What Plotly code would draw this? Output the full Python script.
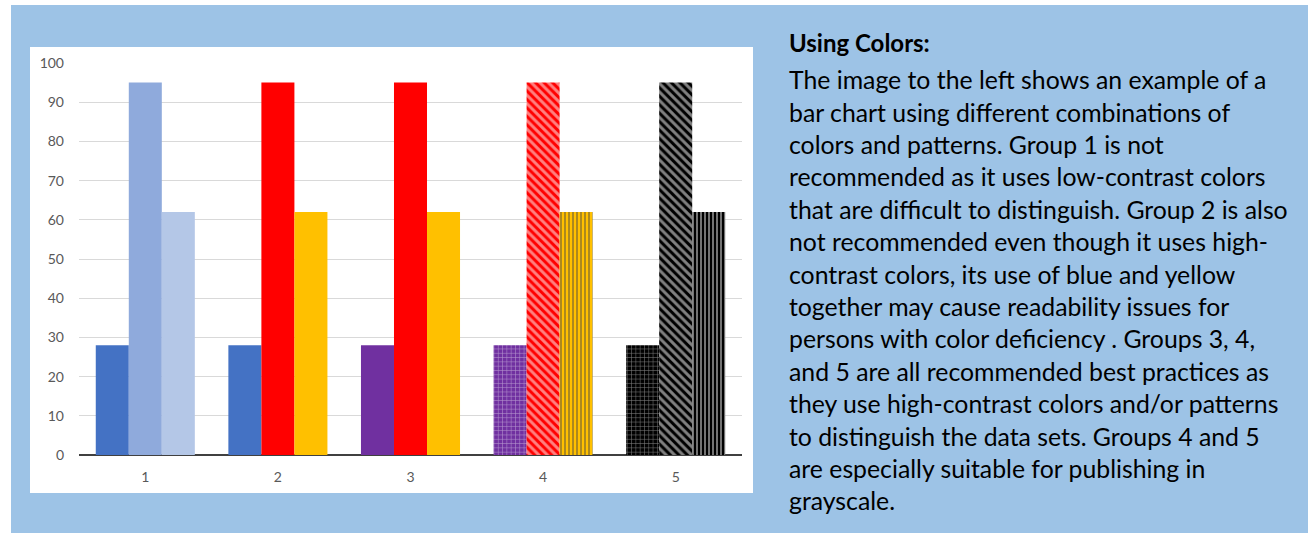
import plotly.graph_objects as go

W, H = 1308, 533

categories = ["1", "2", "3", "4", "5"]
series_a = [28, 28, 28, 28, 28]
series_b = [95, 95, 95, 95, 95]
series_c = [62, 62, 62, 62, 62]
y_ticks = [0, 10, 20, 30, 40, 50, 60, 70, 80, 90, 100]

colors_a = ["#4472C4", "#4472C4", "#7030A0", "#7030A0", "#000000"]
colors_b = ["#8FAADC", "#FF0000", "#FF0000", "#FF0000", "#000000"]
colors_c = ["#B4C7E7", "#FFC000", "#FFC000", "#FFC000", "#000000"]

heading = "Using Colors:"
body_lines = [
    "The image to the left shows an example of a",
    "bar chart using different combinations of",
    "colors and patterns. Group 1 is not",
    "recommended as it uses low-contrast colors",
    "that are difficult to distinguish. Group 2 is also",
    "not recommended even though it uses high-",
    "contrast colors, its use of blue and yellow",
    "together may cause readability issues for",
    "persons with color deficiency . Groups 3, 4,",
    "and 5 are all recommended best practices as",
    "they use high-contrast colors and/or patterns",
    "to distinguish the data sets. Groups 4 and 5",
    "are especially suitable for publishing in",
    "grayscale.",
]

FONT = "Lato"

fig = go.Figure()
fig.add_trace(go.Bar(
    x=categories, y=series_a, name="A",
    marker=dict(
        color=colors_a, line=dict(width=0),
        pattern=dict(
            shape=["", "", "", "+", "+"],
            fgcolor=["#4472C4", "#4472C4", "#7030A0", "#E6DAF2", "#FFFFFF"],
            bgcolor=["#4472C4", "#4472C4", "#7030A0", "#7030A0", "#000000"],
            size=4.3, solidity=0.22,
        ),
    ),
))
fig.add_trace(go.Bar(
    x=categories, y=series_b, name="B",
    marker=dict(
        color=colors_b, line=dict(width=0),
        pattern=dict(
            shape=["", "", "", "\\", "\\"],
            fgcolor=["#8FAADC", "#FF0000", "#FF0000", "#FF1A1A", "#000000"],
            bgcolor=["#8FAADC", "#FF0000", "#FF0000", "#FFFFFF", "#FFFFFF"],
            size=6, solidity=0.5,
        ),
    ),
))
fig.add_trace(go.Bar(
    x=categories, y=series_c, name="C",
    marker=dict(
        color=colors_c, line=dict(width=0),
        pattern=dict(
            shape=["", "", "", "|", "|"],
            fgcolor=["#B4C7E7", "#FFC000", "#FFC000", "#FFE699", "#8C8C8C"],
            bgcolor=["#B4C7E7", "#FFC000", "#FFC000", "#FFC000", "#000000"],
            size=4, solidity=0.45,
        ),
    ),
))

# panels
fig.add_shape(type="rect", xref="paper", yref="paper",
              x0=11 / W, x1=1.0, y0=0.0, y1=1 - 5 / H,
              fillcolor="#9DC3E6", line=dict(width=0), layer="below")
fig.add_shape(type="rect", xref="paper", yref="paper",
              x0=30 / W, x1=753 / W, y0=1 - 493 / H, y1=1 - 47 / H,
              fillcolor="#FFFFFF", line=dict(width=0), layer="below")

fs_body = 24.8
fs_head = 24
fig.add_annotation(xref="paper", yref="paper", x=787 / W, y=1 - (51 - 0.35 * fs_head) / H,
                   text="<b>" + heading + "</b>", showarrow=False,
                   xanchor="left", yanchor="middle",
                   font=dict(family=FONT, size=fs_head, color="#000000"))
for i, line in enumerate(body_lines):
    baseline = 88.3 + 32.4 * i
    fig.add_annotation(xref="paper", yref="paper", x=787 / W,
                       y=1 - (baseline - 0.35 * fs_body) / H,
                       text=line, showarrow=False, xanchor="left", yanchor="middle",
                       font=dict(family=FONT, size=fs_body, color="#000000"))

fig.update_layout(
    width=W, height=H, autosize=False,
    margin=dict(l=0, r=0, t=0, b=0, pad=0, autoexpand=False),
    paper_bgcolor="#FFFFFF", plot_bgcolor="rgba(0,0,0,0)",
    barmode="group", bargap=0.253, bargroupgap=0,
    showlegend=False,
    font=dict(family=FONT, color="#595959", size=14),
    xaxis=dict(domain=[79 / W, 742 / W], showgrid=False, zeroline=False,
               showline=False, ticks="", ticklabelstandoff=12, automargin=False,
               tickfont=dict(family=FONT, size=14, color="#595959"),
               fixedrange=True),
    yaxis=dict(domain=[1 - 455 / H, 1 - 63 / H], range=[0, 100],
               tickvals=y_ticks, showgrid=True, gridcolor="#D9D9D9", gridwidth=1,
               zeroline=True, zerolinecolor="#404040", zerolinewidth=2,
               showline=False, ticks="", ticklabelstandoff=14, automargin=False,
               tickfont=dict(family=FONT, size=14, color="#595959"),
               fixedrange=True),
)

fig.write_html("out.html", config={"responsive": False})
